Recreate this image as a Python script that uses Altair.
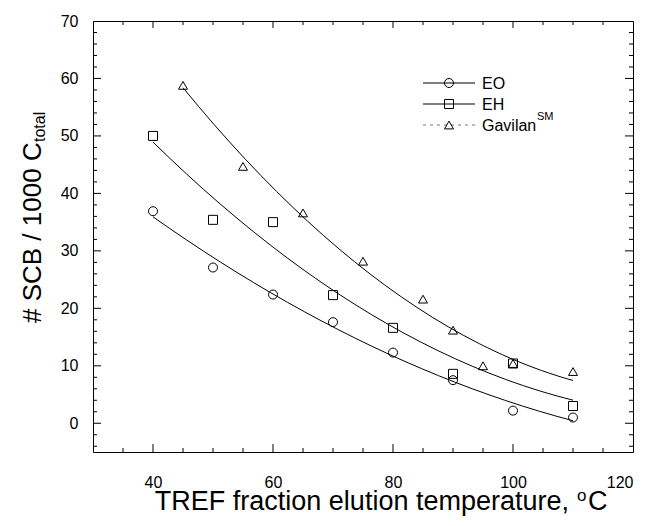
import altair as alt
import pandas as pd

# ---- data ----
series_names = ["EO", "EH", "Gavilan"]
eo_temp = [40, 50, 60, 70, 80, 90, 100, 110]
eo_scb = [36.9, 27.1, 22.4, 17.6, 12.3, 7.5, 2.2, 1.0]
eh_temp = [40, 50, 60, 70, 80, 90, 100, 110]
eh_scb = [50.0, 35.4, 35.0, 22.3, 16.6, 8.6, 10.4, 3.0]
gav_temp = [45, 55, 65, 75, 85, 90, 95, 100, 110]
gav_scb = [58.8, 44.7, 36.6, 28.2, 21.6, 16.2, 10.0, 10.4, 9.0]

x_labels = [40, 60, 80, 100, 120]
y_labels = [0, 10, 20, 30, 40, 50, 60, 70]
x_major = [40, 60, 80, 100]
x_minor = [35, 45, 50, 55, 65, 70, 75, 85, 90, 95, 105, 110, 115]
y_major = [0, 10, 20, 30, 40, 50, 60]
y_minor = [v for v in range(-4, 70, 2) if v % 10 != 0]

FONT = "Liberation Sans"
W, H = 540, 431

df = pd.concat([
    pd.DataFrame({"temp": eo_temp, "scb": eo_scb, "series": series_names[0]}),
    pd.DataFrame({"temp": eh_temp, "scb": eh_scb, "series": series_names[1]}),
    pd.DataFrame({"temp": gav_temp, "scb": gav_scb, "series": series_names[2]}),
], ignore_index=True)

xscale = alt.Scale(domain=[30, 120], nice=False, zero=False)
yscale = alt.Scale(domain=[-5, 70], nice=False, zero=False)
xaxis = alt.Axis(values=x_labels, labelPadding=22, title=None, ticks=False, domain=False, grid=False)
yaxis = alt.Axis(values=y_labels, labelPadding=15, title=None, ticks=False, domain=False, grid=False)

X = alt.X("temp:Q", scale=xscale, axis=xaxis)
Y = alt.Y("scb:Q", scale=yscale, axis=yaxis)

shapes = ["circle", "square", "triangle-up"]

points = alt.Chart(df).mark_point(
    filled=False, size=81, color="black", strokeWidth=1, opacity=1
).encode(
    x=X, y=Y,
    shape=alt.Shape("series:N", scale=alt.Scale(domain=series_names, range=shapes), legend=None),
)

curves = alt.Chart(df).transform_regression(
    "temp", "scb", method="poly", order=2, groupby=["series"]
).mark_line(color="black", strokeWidth=1).encode(
    x=X, y=Y, detail="series:N"
)

def xticks(vals, length, top=False):
    d = pd.DataFrame({"temp": vals})
    if top:
        return alt.Chart(d).mark_rule(color="black", strokeWidth=1).encode(
            x=X, y=alt.value(0), y2=alt.value(length))
    return alt.Chart(d).mark_rule(color="black", strokeWidth=1).encode(
        x=X, y=alt.value(H), y2=alt.value(H - length))

def yticks(vals, length, right=False):
    d = pd.DataFrame({"scb": vals})
    if right:
        return alt.Chart(d).mark_rule(color="black", strokeWidth=1).encode(
            y=Y, x=alt.value(W), x2=alt.value(W - length))
    return alt.Chart(d).mark_rule(color="black", strokeWidth=1).encode(
        y=Y, x=alt.value(0), x2=alt.value(length))

tick_layers = [
    xticks(x_major, 8), xticks(x_minor, 4),
    xticks(x_major, 7, top=True), xticks(x_minor, 4, top=True),
    yticks(y_major, 8), yticks(y_minor, 4),
    yticks(y_major, 8, right=True), yticks(y_minor, 4, right=True),
]

def txt(s, x, y, size, angle=0, align="left"):
    kw = dict(font=FONT, fontSize=size, align=align, baseline="alphabetic", color="black")
    if angle:
        kw["angle"] = angle
    return alt.Chart(pd.DataFrame({"t": [s]})).mark_text(**kw).encode(
        x=alt.value(x), y=alt.value(y), text="t:N")

# axis titles with super/subscripts
title_layers = [
    txt("TREF fraction elution temperature,", 476, 489, 27, align="right"),
    txt("o", 484, 480, 17),
    txt("C", 495, 489, 27),
    txt("# SCB / 1000 C", -51.7, 302, 26, angle=270),
    txt("total", -48.3, 121, 16, angle=270),
]

# legend
leg_rows = [62, 83, 104]
legend_layers = []
for name, shp, yy in zip(series_names, shapes, leg_rows):
    one = pd.DataFrame({"t": [name]})
    if name == "Gavilan":
        legend_layers.append(alt.Chart(one).mark_rule(color="#777", strokeWidth=1, strokeDash=[3, 4]).encode(
            x=alt.value(330), x2=alt.value(382), y=alt.value(yy)))
    else:
        legend_layers.append(alt.Chart(one).mark_rule(color="black", strokeWidth=1).encode(
            x=alt.value(330), x2=alt.value(382), y=alt.value(yy)))
    legend_layers.append(alt.Chart(one).mark_point(
        shape=shp, filled=False, size=81, color="black", strokeWidth=1, opacity=1).encode(
        x=alt.value(356), y=alt.value(yy)))
    legend_layers.append(txt(name, 389, yy + 5.5, 16))
legend_layers.append(txt("SM", 444, 99, 11))

chart = alt.layer(
    points, curves, *tick_layers, *title_layers, *legend_layers
).properties(
    width=W, height=H,
    autosize=alt.AutoSizeParams(type="none"),
    padding={"left": 85, "top": 13, "right": 4, "bottom": 66},
    background="white",
).configure_view(
    stroke="black", strokeWidth=1
).configure_axis(
    labelFont=FONT, labelFontSize=16, labelColor="black",
)

chart.save("out.html", embed_options={"renderer": "svg", "actions": False})
